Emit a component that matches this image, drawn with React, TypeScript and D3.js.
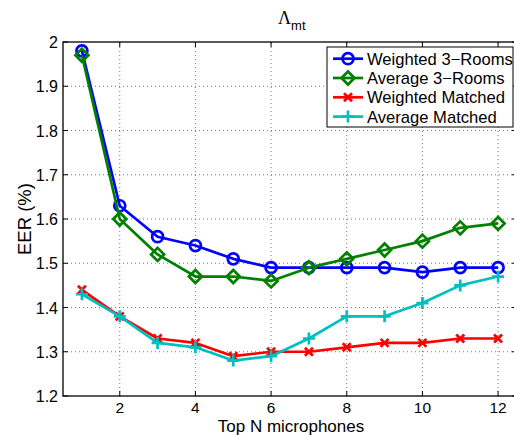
import React, { useEffect, useRef } from "react";
import * as d3 from "d3";

// values
const topN = [1, 2, 3, 4, 5, 6, 7, 8, 9, 10, 11, 12];
const weighted3Rooms = [1.98, 1.63, 1.56, 1.54, 1.51, 1.49, 1.49, 1.49, 1.49, 1.48, 1.49, 1.49];
const average3Rooms = [1.97, 1.6, 1.52, 1.47, 1.47, 1.46, 1.49, 1.51, 1.53, 1.55, 1.58, 1.59];
const weightedMatched = [1.44, 1.38, 1.33, 1.32, 1.29, 1.3, 1.3, 1.31, 1.32, 1.32, 1.33, 1.33];
const averageMatched = [1.43, 1.38, 1.32, 1.31, 1.28, 1.29, 1.33, 1.38, 1.38, 1.41, 1.45, 1.47];
const xTicks = [2, 4, 6, 8, 10, 12];
const yTicks = [1.2, 1.3, 1.4, 1.5, 1.6, 1.7, 1.8, 1.9, 2];

const series = [
  { name: "Weighted 3\u2212Rooms", values: weighted3Rooms, color: "#0000ff", marker: "circle" },
  { name: "Average 3\u2212Rooms", values: average3Rooms, color: "#008000", marker: "diamond" },
  { name: "Weighted Matched", values: weightedMatched, color: "#ff0000", marker: "x" },
  { name: "Average Matched", values: averageMatched, color: "#00bfbf", marker: "plus" },
];

const W = 514, H = 435;
const margin = { left: 63, top: 42, right: -3, bottom: 39 };
const font = "Liberation Sans, Arial, sans-serif";

function drawMarker(g: any, kind: string, x: number, y: number, color: string) {
  if (kind === "circle") {
    g.append("circle").attr("cx", x).attr("cy", y).attr("r", 5.5)
      .attr("fill", "none").attr("stroke", color).attr("stroke-width", 2.7);
  } else if (kind === "diamond") {
    const s = 6.5;
    g.append("path").attr("d", `M${x},${y - s}L${x + s},${y}L${x},${y + s}L${x - s},${y}Z`)
      .attr("fill", "none").attr("stroke", color).attr("stroke-width", 2.7);
  } else if (kind === "x") {
    const s = 4;
    g.append("path").attr("d", `M${x - s},${y - s}L${x + s},${y + s}M${x - s},${y + s}L${x + s},${y - s}`)
      .attr("stroke", color).attr("stroke-width", 2.7);
  } else {
    const s = 6;
    g.append("path").attr("d", `M${x - s},${y}L${x + s},${y}M${x},${y - s}L${x},${y + s}`)
      .attr("stroke", color).attr("stroke-width", 2.7);
  }
}

export default function App() {
  const ref = useRef<SVGSVGElement>(null);

  useEffect(() => {
    const svg = d3.select(ref.current);
    svg.selectAll("*").remove();

    const x = d3.scaleLinear().domain([0.5, 12.5]).range([margin.left, W - margin.right]);
    const y = d3.scaleLinear().domain([1.2, 2]).range([H - margin.bottom, margin.top]);
    const x0 = x.range()[0], x1 = x.range()[1];
    const y0 = y.range()[0], y1 = y.range()[1];

    svg.append("rect").attr("width", W).attr("height", H).attr("fill", "#fff");

    // grid
    const grid = svg.append("g").attr("stroke", "#555").attr("stroke-width", 0.8)
      .attr("stroke-dasharray", "1,3");
    xTicks.forEach((t) => grid.append("line").attr("x1", x(t)).attr("x2", x(t)).attr("y1", y0).attr("y2", y1));
    yTicks.slice(1, -1).forEach((t) => grid.append("line").attr("x1", x0).attr("x2", x1).attr("y1", y(t)).attr("y2", y(t)));

    // ticks inside box
    const tk = svg.append("g").attr("stroke", "#000").attr("stroke-width", 1);
    xTicks.forEach((t) => {
      tk.append("line").attr("x1", x(t)).attr("x2", x(t)).attr("y1", y0).attr("y2", y0 - 5);
      tk.append("line").attr("x1", x(t)).attr("x2", x(t)).attr("y1", y1).attr("y2", y1 + 5);
    });
    yTicks.forEach((t) => {
      tk.append("line").attr("x1", x0).attr("x2", x0 + 5).attr("y1", y(t)).attr("y2", y(t));
      tk.append("line").attr("x1", x1).attr("x2", x1 - 5).attr("y1", y(t)).attr("y2", y(t));
    });

    // series
    const line = d3.line<number>().x((_, i) => x(topN[i])).y((d) => y(d));
    series.forEach((s) => {
      const g = svg.append("g");
      g.append("path").attr("d", line(s.values)).attr("fill", "none")
        .attr("stroke", s.color).attr("stroke-width", 2.7).attr("stroke-linejoin", "round");
      s.values.forEach((v, i) => drawMarker(g, s.marker, x(topN[i]), y(v), s.color));
    });

    // axes box
    svg.append("rect").attr("x", x0).attr("y", y1).attr("width", x1 - x0).attr("height", y0 - y1)
      .attr("fill", "none").attr("stroke", "#000").attr("stroke-width", 1.3);

    // tick labels
    const lab = svg.append("g").attr("font-family", font).attr("font-size", 16).attr("fill", "#000");
    xTicks.forEach((t) => lab.append("text").attr("x", x(t)).attr("y", y0 + 16.5).attr("font-size", 15.5).attr("text-anchor", "middle").text(t));
    yTicks.forEach((t) => lab.append("text").attr("x", x0 - 5).attr("y", y(t) + 6).attr("text-anchor", "end").text(d3.format("~g")(t)));

    // axis titles
    lab.append("text").attr("x", 291).attr("y", 431.5).attr("text-anchor", "middle").attr("font-size", 17).text("Top N microphones");
    lab.append("text").attr("transform", "translate(31,219) rotate(-90)").attr("text-anchor", "middle").attr("font-size", 18.5).text("EER (%)");
    const title = lab.append("text").attr("x", 278).attr("y", 24).attr("font-family", "Liberation Serif, serif").attr("font-size", 18);
    title.append("tspan").text("\u039b");
    title.append("tspan").attr("dy", 6).attr("font-family", font).attr("font-size", 13).text("mt");

    // legend
    const lg = svg.append("g");
    const lx = 327, ly = 47, lw = 186, lh = 80;
    lg.append("rect").attr("x", lx).attr("y", ly).attr("width", lw).attr("height", lh)
      .attr("fill", "#fff").attr("stroke", "#000").attr("stroke-width", 1);
    series.forEach((s, i) => {
      const yy = ly + 11.7 + i * 19.3;
      lg.append("line").attr("x1", lx + 6).attr("x2", lx + 36).attr("y1", yy).attr("y2", yy)
        .attr("stroke", s.color).attr("stroke-width", 2.7);
      drawMarker(lg, s.marker, lx + 21, yy, s.color);
      lg.append("text").attr("x", lx + 40).attr("y", yy + 6).attr("font-family", font).attr("font-size", 16.6).text(s.name);
    });
  }, []);

  return (
    <svg ref={ref} width={W} height={H} style={{ position: "absolute", left: 0, top: 0, display: "block" }} />
  );
}
